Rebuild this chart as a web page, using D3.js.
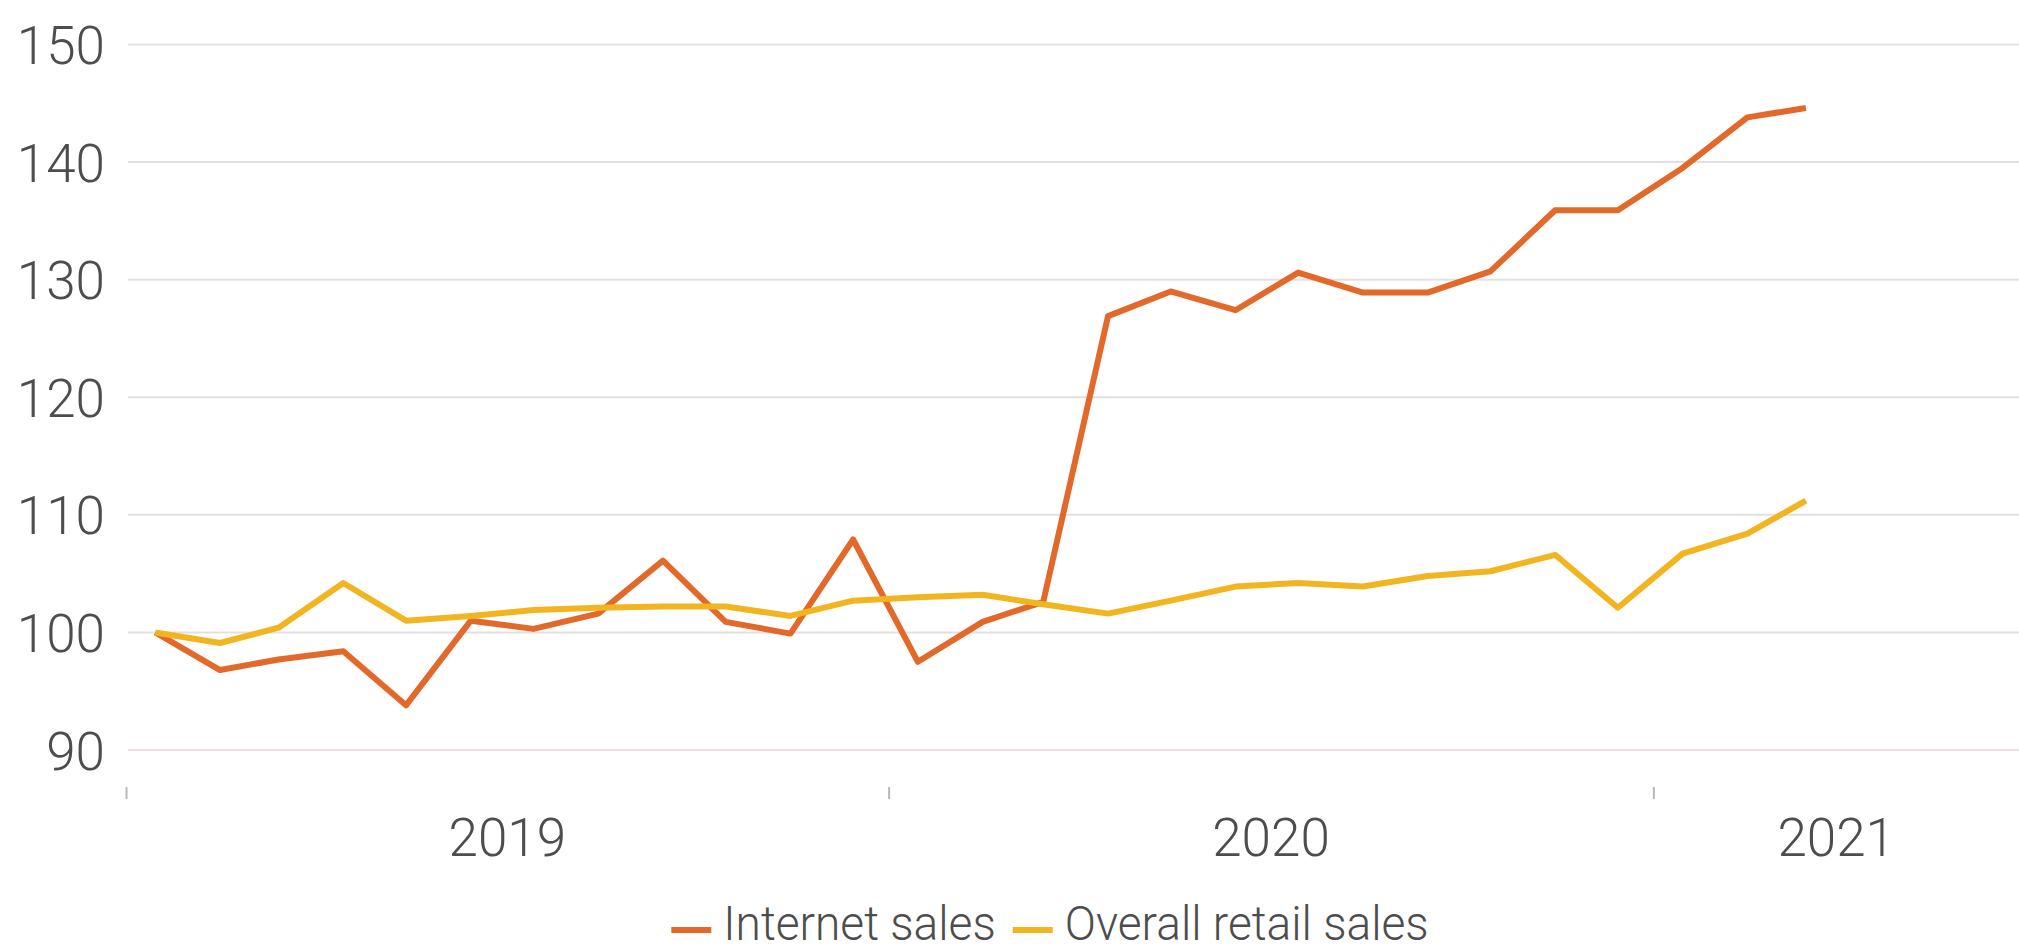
<!DOCTYPE html>
<html>
<head>
<meta charset="utf-8">
<script src="https://cdn.jsdelivr.net/npm/d3@7"></script>
<style>
  html, body { margin: 0; padding: 0; background: #ffffff; }
  svg { display: block; }
  text { font-family: Roboto, "Liberation Sans", "DejaVu Sans", sans-serif; font-weight: 300; fill: #4d4d4d; }
</style>
</head>
<body>
<svg id="chart" width="2019" height="951"></svg>
<script>
// ---- data (index, Jan 2019 = 100) ----
const months = d3.range(27).map(i => new Date(2019, i, 15)); // Jan 2019 .. Mar 2021
const internetSales = [100, 96.8, 97.7, 98.4, 93.8, 101.0, 100.3, 101.6, 106.1, 100.9, 99.9, 107.9, 97.5, 100.9, 102.6, 126.9, 129.0, 127.4, 130.6, 128.9, 128.9, 130.7, 135.9, 135.9, 139.5, 143.8, 144.6];
const overallRetail = [100, 99.1, 100.4, 104.2, 101.0, 101.4, 101.9, 102.1, 102.2, 102.2, 101.4, 102.7, 103.0, 103.2, 102.4, 101.6, 102.7, 103.9, 104.2, 103.9, 104.8, 105.2, 106.6, 102.1, 106.7, 108.4, 111.2];
const yTicks = [90, 100, 110, 120, 130, 140, 150];
const yearLabels = ["2019", "2020", "2021"];
const seriesNames = ["Internet sales", "Overall retail sales"];
const seriesColors = ["#e2692a", "#f2b520"];

const W = 2019, H = 951;
const svg = d3.select("#chart");

const xDomain = [new Date(2019, 0, 1), new Date(2021, 5, 25)];
const x = d3.scaleTime().domain(xDomain).range([126, W]);
const y = d3.scaleLinear().domain([90, 150]).range([750, 44.5]);

// gridlines
svg.append("g").selectAll("line").data(yTicks).join("line")
  .attr("x1", 128).attr("x2", W)
  .attr("y1", d => y(d)).attr("y2", d => y(d))
  .attr("stroke", d => d === 90 ? "#efdede" : "#e3e0e0")
  .attr("stroke-width", 2);

// y axis labels
const yAxis = d3.axisLeft(y).tickValues(yTicks).tickSize(0).tickPadding(0);
const gy = svg.append("g").attr("transform", "translate(105,0)").call(yAxis);
gy.select(".domain").remove();
gy.selectAll("text").attr("font-size", 53).attr("dy", "0.36em")
  .style("font-family", "Roboto, 'Liberation Sans', sans-serif").style("font-weight", 300).attr("fill", "#4d4d4d");

// x axis: year boundary ticks
const yearStarts = d3.timeYear.range(xDomain[0], xDomain[1]);
const xAxis = d3.axisBottom(x).tickValues(yearStarts).tickSize(12).tickFormat("");
const gx = svg.append("g").attr("transform", "translate(0,787)").call(xAxis);
gx.select(".domain").remove();
gx.selectAll(".tick line").attr("stroke", "#b8b8b8").attr("stroke-width", 2);

// year labels centered on visible part of each year
svg.append("g").selectAll("text").data(yearStarts).join("text")
  .attr("x", (d, i) => {
    const a = x(d), b = x(Math.min(+d3.timeYear.offset(d, 1), +xDomain[1]));
    return (a + b) / 2;
  })
  .attr("y", 856)
  .attr("text-anchor", "middle")
  .attr("font-size", 53)
  .text((d, i) => yearLabels[i]);

// lines
const line = d3.line().x((d, i) => x(months[i])).y(d => y(d));
[internetSales, overallRetail].forEach((s, k) => {
  svg.append("path").datum(s)
    .attr("fill", "none")
    .attr("stroke", seriesColors[k])
    .attr("stroke-width", 6)
    .attr("stroke-linejoin", "round")
    .attr("d", line);
});

// legend
const lg = svg.append("g");
const legendScaleX = 0.94;
const dashW = 40, dashGap = 12, itemGap = 17;
const items = lg.selectAll("g").data(seriesNames).join("g");
items.append("line")
  .attr("x1", 0).attr("x2", dashW).attr("y1", 0).attr("y2", 0)
  .attr("stroke", (d, i) => seriesColors[i]).attr("stroke-width", 6);
items.append("text")
  .attr("x", dashW + dashGap).attr("y", 10)
  .attr("font-size", 49)
  .attr("transform", `scale(${legendScaleX},1)`)
  .attr("transform-origin", `${dashW + dashGap} 0`)
  .text(d => d);
const widths = [];
items.each(function () {
  const t = d3.select(this).select("text").node();
  widths.push(dashW + dashGap + t.getComputedTextLength() * legendScaleX);
});
const total = d3.sum(widths) + itemGap * (widths.length - 1);
const startX = 1050 - total / 2;
items.attr("transform", (d, i) => {
  const off = startX + d3.sum(widths.slice(0, i)) + itemGap * i;
  return `translate(${off},930)`;
});
</script>
</body>
</html>
